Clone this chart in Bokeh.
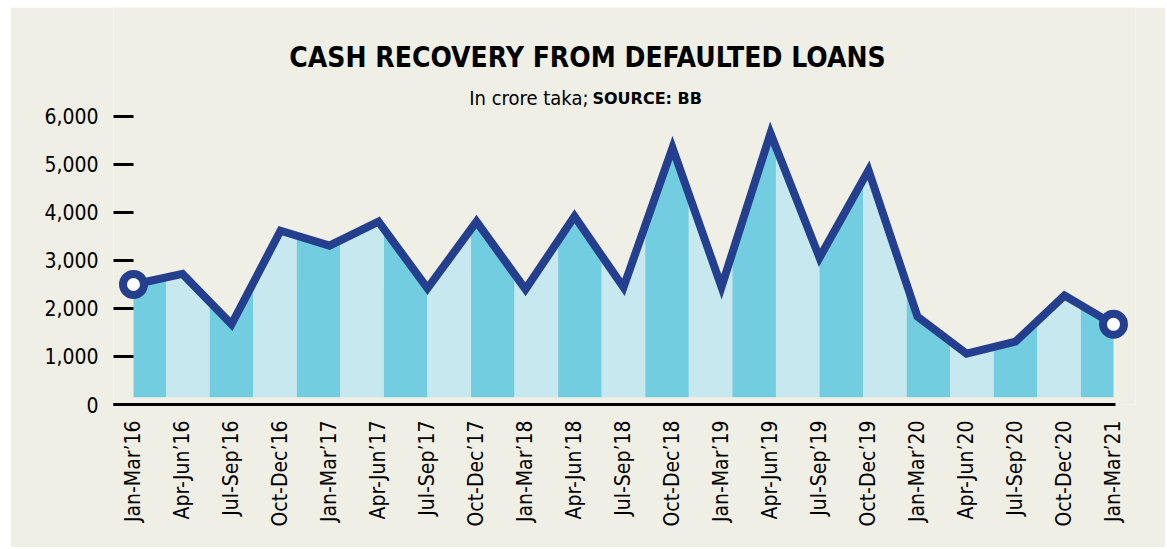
import math
from bokeh.plotting import figure
from bokeh.models import Range1d, FixedTicker, Label
from bokeh.embed import file_html
from bokeh.resources import INLINE

# ---- data ----
categories = ["Jan-Mar’16", "Apr-Jun’16", "Jul-Sep’16", "Oct-Dec’16",
              "Jan-Mar’17", "Apr-Jun’17", "Jul-Sep’17", "Oct-Dec’17",
              "Jan-Mar’18", "Apr-Jun’18", "Jul-Sep’18", "Oct-Dec’18",
              "Jan-Mar’19", "Apr-Jun’19", "Jul-Sep’19", "Oct-Dec’19",
              "Jan-Mar’20", "Apr-Jun’20", "Jul-Sep’20", "Oct-Dec’20",
              "Jan-Mar’21"]
values = [2500, 2720, 1670, 3620, 3310, 3810, 2420, 3810, 2400, 3920, 2440,
          5350, 2450, 5650, 3060, 4880, 1830, 1060, 1310, 2270, 1670]
y_ticks = [0, 1000, 2000, 3000, 4000, 5000, 6000]
y_tick_labels = ["0", "1,000", "2,000", "3,000", "4,000", "5,000", "6,000"]

TITLE = "CASH RECOVERY FROM DEFAULTED LOANS"
SUB1 = "In crore taka;"
SUB2 = "SOURCE: BB"

# ---- style ----
BG = "#f0efe6"
DARK = "#72cde0"
LIGHT = "#c8e8ef"
NAVY = "#253f8f"
NARROW = "DejaVu Sans Condensed"

xs = list(range(len(categories)))
n = len(xs)

# decorative stripes under the line
stripe_w = 0.889
end_w = ((n - 1) - 21 * stripe_w) / 2
bounds = [0.0] + [end_w + k * stripe_w for k in range(22)] + [float(n - 1)]
STRIPE_BASE = 150


def interp(x):
    i = min(int(math.floor(x)), n - 2)
    t = x - i
    return values[i] + (values[i + 1] - values[i]) * t


px, py, pc = [], [], []
for k in range(len(bounds) - 1):
    a, b = bounds[k], bounds[k + 1]
    top_x = [a] + [x for x in xs if a < x < b] + [b]
    top_y = [interp(x) for x in top_x]
    px.append(top_x + [b, a])
    py.append(top_y + [STRIPE_BASE, STRIPE_BASE])
    pc.append(DARK if k % 2 == 0 else LIGHT)

p = figure(width=1155, height=540, output_backend="svg", toolbar_location=None,
           x_range=Range1d(-0.408, 20.449), y_range=Range1d(0, 8270.8),
           min_border_left=103, min_border_right=30, min_border_top=0,
           min_border_bottom=143)
p.margin = (7, 0, 0, 10)
p.background_fill_color = BG
p.border_fill_color = BG
p.outline_line_color = None
p.grid.visible = False

p.patches(px, py, fill_color=pc, line_color=None)
p.line(xs, values, line_color=NAVY, line_width=8, line_join="miter")
p.scatter([xs[0], xs[-1]], [values[0], values[-1]], size=21,
          fill_color="white", line_color=NAVY, line_width=8)

# y axis
ya = p.yaxis[0]
ya.ticker = FixedTicker(ticks=y_ticks)
ya.major_label_overrides = {t: l for t, l in zip(y_ticks, y_tick_labels)}
ya.axis_line_color = None
ya.major_tick_in = 20
ya.major_tick_out = 0
ya.major_tick_line_width = 3
ya.major_tick_line_color = "black"
ya.minor_tick_line_color = None
ya.major_label_standoff = 15
ya.major_label_text_font = NARROW
ya.major_label_text_font_size = "21px"
ya.major_label_text_color = "black"

# x axis
xa = p.xaxis[0]
xa.ticker = FixedTicker(ticks=xs)
xa.major_label_overrides = {x: c for x, c in zip(xs, categories)}
xa.bounds = (-0.408, 20.04)
xa.axis_line_width = 3
xa.axis_line_color = "black"
xa.major_tick_line_color = None
xa.minor_tick_line_color = None
xa.major_label_orientation = math.pi / 2
xa.major_label_standoff = 10
xa.major_label_text_font = NARROW
xa.major_label_text_font_size = "21px"
xa.major_label_text_color = "black"

p.add_layout(Label(x=9.265, y=7230, text=TITLE,
                   text_align="center", text_baseline="alphabetic",
                   text_font=NARROW, text_font_style="bold",
                   text_font_size="28px", text_color="black"))
p.add_layout(Label(x=9.286, y=6375, text=SUB1,
                   text_align="right", text_baseline="alphabetic",
                   text_font=NARROW, text_font_size="20px", text_color="black"))
p.add_layout(Label(x=9.367, y=6380, text=SUB2,
                   text_align="left", text_baseline="alphabetic",
                   text_font="DejaVu Sans", text_font_style="bold",
                   text_font_size="16px", text_color="black"))

open("out.html", "w").write(file_html(p, INLINE))
